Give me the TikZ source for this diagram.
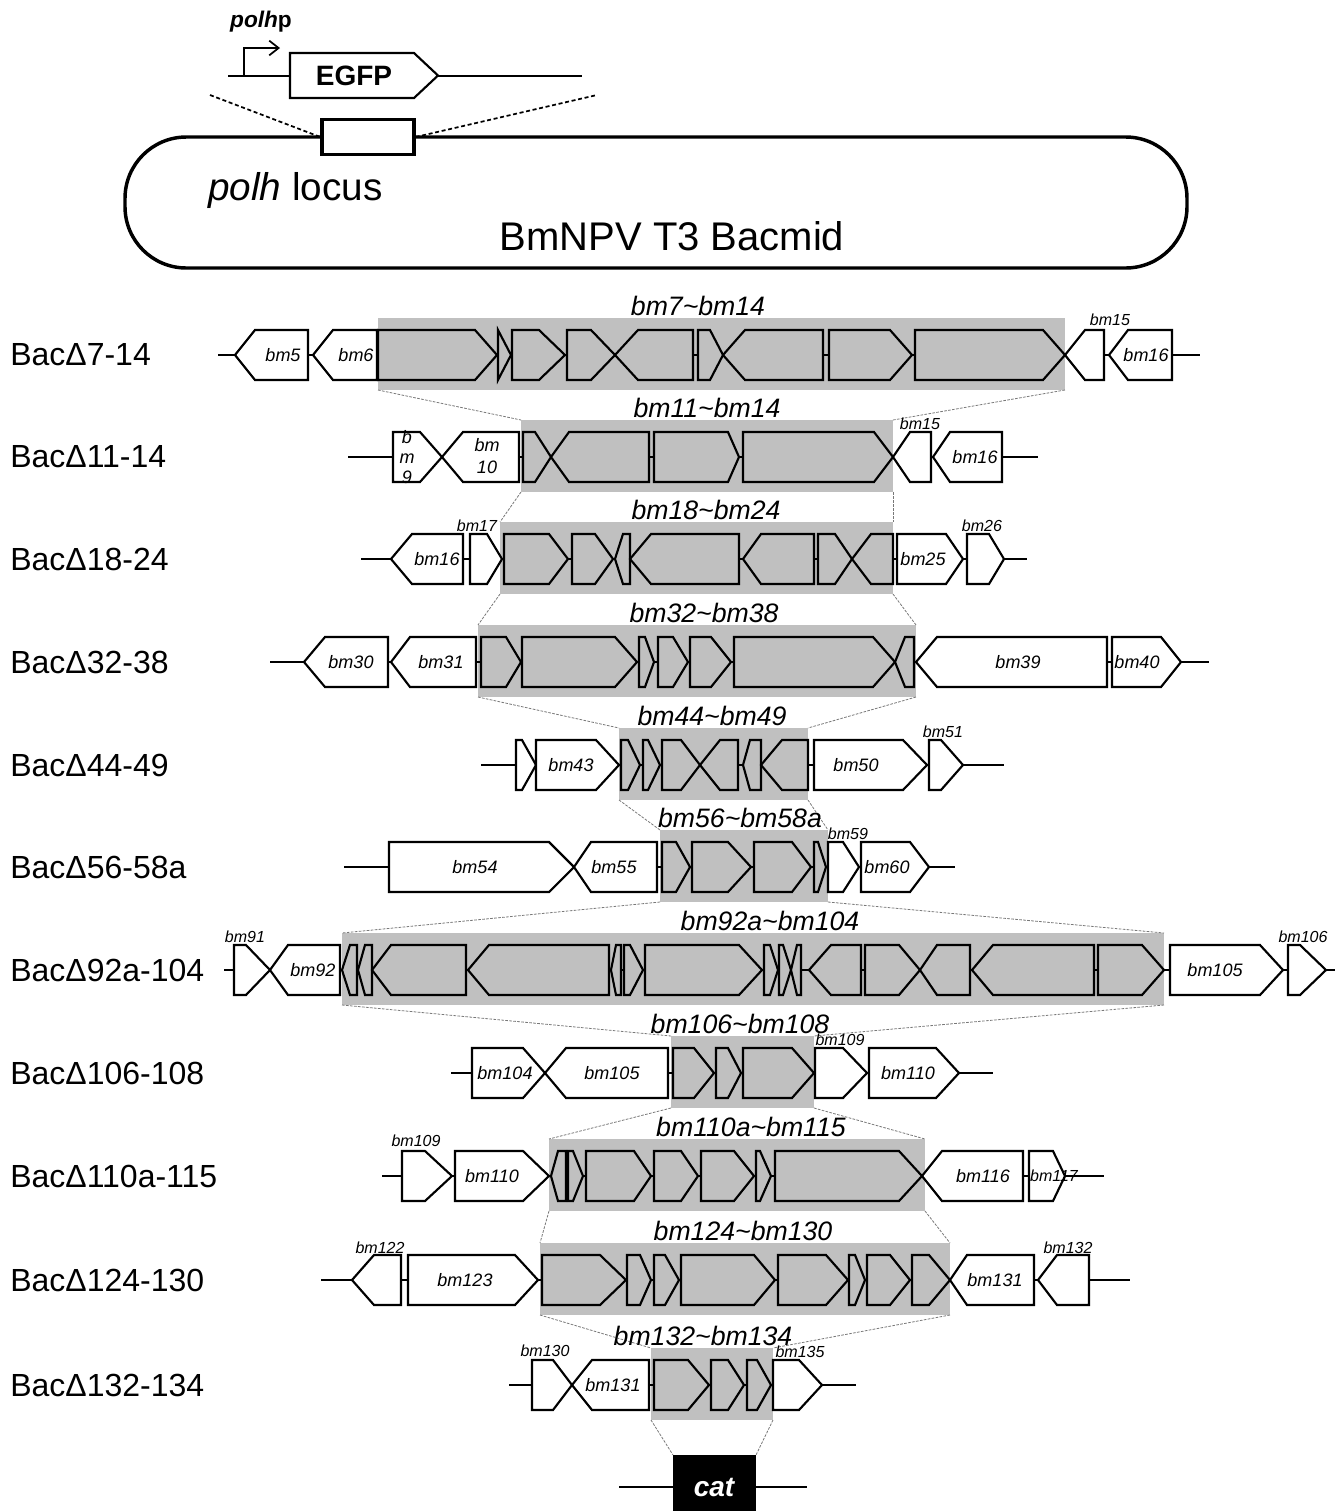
\documentclass[tikz,border=0pt]{standalone}
\usepackage{fontspec}
\setmainfont{Liberation Sans}
\usetikzlibrary{arrows.meta}
\definecolor{shadegray}{RGB}{192,192,192}
\definecolor{conngray}{RGB}{120,120,120}
\tikzset{
  gene/.style={draw=black, fill=shadegray, line width=1.6pt, line join=miter},
  genew/.style={gene, fill=white},
  bb/.style={line width=2pt},
  conn/.style={draw=conngray, line width=0.6pt, dash pattern=on 2pt off 1pt},
  blackdash/.style={draw=black, line width=1.3pt, dash pattern=on 3pt off 2pt},
  rowlab/.style={anchor=west, inner sep=0, font=\fontsize{24}{28}\selectfont},
  reglab/.style={inner sep=0, font=\fontsize{20}{24}\selectfont\itshape},
  glab/.style={inner sep=0, font=\fontsize{13.5}{16}\selectfont\itshape},
  slab/.style={inner sep=0, font=\fontsize{12}{14}\selectfont\itshape},
}
% rightward gene: [style]{y}{x1}{corner}{tip}
\newcommand{\gR}[5][genew]{\draw[#1] (#3,#2-25) -- (#4,#2-25) -- (#5,#2) -- (#4,#2+25) -- (#3,#2+25) -- cycle;}
% leftward gene: [style]{y}{tip}{corner}{right}
\newcommand{\gL}[5][genew]{\draw[#1] (#3,#2) -- (#4,#2-25) -- (#5,#2-25) -- (#5,#2+25) -- (#4,#2+25) -- cycle;}
% region: {name}{y}{x1}{x2}
\newcommand{\region}[4]{%
  \fill[shadegray] (#3,#2-37) rectangle (#4,#2+35);
  \coordinate (#1tl) at (#3,#2-37); \coordinate (#1tr) at (#4,#2-37);
  \coordinate (#1bl) at (#3,#2+35); \coordinate (#1br) at (#4,#2+35);}
\newcommand{\rlabel}[4]{\node[reglab] (#1lab) at (#3,#2-49) {#4};}
\newcommand{\tl}{\textasciitilde}
\begin{document}
\begin{tikzpicture}[x=0.75pt,y=-0.75pt]
\useasboundingbox (0,0) rectangle (1335,1511);

% ---------- top construct ----------
\draw[bb] (228,76) -- (582,76);
\coordinate (prom) at (244,76);
\coordinate (promend) at (280,48);
\draw[line width=1.5pt, -{Straight Barb[length=7pt,width=11pt,line width=1.3pt]}] (prom) |- (promend);
\draw[genew] (290,53) -- (414,53) -- (438,75.5) -- (414,98) -- (290,98) -- cycle;
\node[inner sep=0, font=\fontsize{21}{24}\selectfont\bfseries] (egfp) at (354,76) {EGFP};
\node[inner sep=0, font=\fontsize{17}{19}\selectfont\bfseries] (polhp) at (261,22) {\textit{polh}p};

% ---------- bacmid ----------
\draw[line width=2.6pt, rounded corners=46pt] (125,137) rectangle (1187,268);
\node[draw, fill=white, line width=2.5pt, minimum width=69pt, minimum height=26pt, inner sep=0] (locus) at (368,137) {};
\coordinate (dl) at (210,95);
\coordinate (dr) at (597,95);
\draw[blackdash] (dl) -- (locus.west);
\draw[blackdash] (locus.east) -- (dr);
\node[anchor=west, inner sep=0, font=\fontsize{29}{32}\selectfont] (locuslab) at (208,190) {\textit{polh} locus};
\node[inner sep=0, font=\fontsize{30}{34}\selectfont] (bacmid) at (672,236) {BmNPV T3 Bacmid};

% ---------- shaded regions ----------
\region{s1}{355}{378}{1065}
\region{s2}{457}{521}{893}
\region{s3}{559}{500}{893}
\region{s4}{662}{478}{916}
\region{s5}{765}{619}{808}
\region{s6}{867}{660}{828}
\region{s7}{970}{342}{1164}
\region{s8}{1073}{671}{814}
\region{s9}{1176}{549}{925}
\region{s10}{1280}{540}{950}
\region{s11}{1385}{651}{773}
\coordinate (cattl) at (673,1455);
\coordinate (cattr) at (756,1455);

% ---------- connectors ----------
\draw[conn] (s1bl) -- (s2tl); \draw[conn] (s1br) -- (s2tr);
\draw[conn] (s2bl) -- (s3tl); \draw[conn] (s2br) -- (s3tr);
\draw[conn] (s3bl) -- (s4tl); \draw[conn] (s3br) -- (s4tr);
\draw[conn] (s4bl) -- (s5tl); \draw[conn] (s4br) -- (s5tr);
\draw[conn] (s5bl) -- (s6tl); \draw[conn] (s5br) -- (s6tr);
\draw[conn] (s6bl) -- (s7tl); \draw[conn] (s6br) -- (s7tr);
\draw[conn] (s7bl) -- (s8tl); \draw[conn] (s7br) -- (s8tr);
\draw[conn] (s8bl) -- (s9tl); \draw[conn] (s8br) -- (s9tr);
\draw[conn] (s9bl) -- (s10tl); \draw[conn] (s9br) -- (s10tr);
\draw[conn] (s10bl) -- (s11tl); \draw[conn] (s10br) -- (s11tr);
\draw[conn] (s11bl) -- (cattl); \draw[conn] (s11br) -- (cattr);

% ---------- region labels ----------
\rlabel{s1}{355}{698}{bm7\tl bm14}
\rlabel{s2}{457}{707}{bm11\tl bm14}
\rlabel{s3}{559}{706}{bm18\tl bm24}
\rlabel{s4}{662}{704}{bm32\tl bm38}
\rlabel{s5}{765}{712}{bm44\tl bm49}
\rlabel{s6}{867}{740}{bm56\tl bm58a}
\rlabel{s7}{970}{770}{bm92a\tl bm104}
\rlabel{s8}{1073}{740}{bm106\tl bm108}
\rlabel{s9}{1176}{751}{bm110a\tl bm115}
\rlabel{s10}{1280}{743}{bm124\tl bm130}
\rlabel{s11}{1385}{703}{bm132\tl bm134}

% ---------- row labels ----------
\node[rowlab] (r1) at (10,355) {BacΔ7-14};
\node[rowlab] (r2) at (10,457) {BacΔ11-14};
\node[rowlab] (r3) at (10,559) {BacΔ18-24};
\node[rowlab] (r4) at (10,662) {BacΔ32-38};
\node[rowlab] (r5) at (10,765) {BacΔ44-49};
\node[rowlab] (r6) at (10,867) {BacΔ56-58a};
\node[rowlab] (r7) at (10,970) {BacΔ92a-104};
\node[rowlab] (r8) at (10,1073) {BacΔ106-108};
\node[rowlab] (r9) at (10,1176) {BacΔ110a-115};
\node[rowlab] (r10) at (10,1280) {BacΔ124-130};
\node[rowlab] (r11) at (10,1385) {BacΔ132-134};

% ---------- row 1 ----------
\draw[bb] (218,355) -- (1200,355);
\gL{355}{235}{255}{308}
\gL{355}{313}{333}{377}
\gR[gene]{355}{378}{475}{497}
\gR[gene]{355}{498}{498}{511}
\gR[gene]{355}{512}{539}{565}
\gR[gene]{355}{567}{591}{615}
\gL[gene]{355}{615}{638}{693}
\gR[gene]{355}{698}{710}{723}
\gL[gene]{355}{723}{745}{823}
\gR[gene]{355}{829}{890}{912}
\gR[gene]{355}{915}{1043}{1065}
\gL{355}{1065}{1085}{1104}
\gL{355}{1109}{1128}{1172}
\node[glab] (a1) at (283,355) {bm5};
\node[glab] (a2) at (356,355) {bm6};
\node[slab] (a3) at (1110,320) {bm15};
\node[glab] (a4) at (1146,355) {bm16};

% ---------- row 2 ----------
\draw[bb] (348,457) -- (1038,457);
\gR{457}{393}{420}{442}
\gL{457}{442}{463}{519}
\gR[gene]{457}{523}{535}{551}
\gL[gene]{457}{551}{569}{649}
\gR[gene]{457}{654}{728}{739}
\gR[gene]{457}{743}{874}{893}
\gL{457}{893}{910}{931}
\gL{457}{933}{950}{1002}
\node[glab, align=center, font=\fontsize{13.5}{15}\selectfont\itshape] (b1) at (407,457) {b\\m\\9};
\node[glab, align=center, font=\fontsize{13.5}{16.5}\selectfont\itshape] (b2) at (487,456) {bm\\10};
\node[slab] (b3) at (920,424) {bm15};
\node[glab] (b4) at (975,457) {bm16};

% ---------- row 3 ----------
\draw[bb] (361,559) -- (1027,559);
\gL{559}{391}{412}{463}
\gR{559}{470}{487}{502}
\gR[gene]{559}{504}{549}{568}
\gR[gene]{559}{572}{595}{613}
\gL[gene]{559}{615}{623}{630}
\gL[gene]{559}{630}{651}{739}
\gL[gene]{559}{743}{761}{814}
\gR[gene]{559}{818}{835}{852}
\gL[gene]{559}{852}{871}{893}
\gR{559}{897}{946}{963}
\gR{559}{967}{989}{1004}
\node[glab] (c1) at (437,559) {bm16};
\node[slab] (c2) at (477,526) {bm17};
\node[glab] (c3) at (923,559) {bm25};
\node[slab] (c4) at (982,526) {bm26};

% ---------- row 4 ----------
\draw[bb] (270,662) -- (1209,662);
\gL{662}{304}{325}{388}
\gL{662}{391}{410}{476}
\gR[gene]{662}{481}{506}{521}
\gR[gene]{662}{522}{615}{637}
\gR[gene]{662}{639}{645}{654}
\gR[gene]{662}{658}{673}{688}
\gR[gene]{662}{690}{711}{731}
\gR[gene]{662}{734}{873}{895}
\gL[gene]{662}{895}{905}{914}
\gL{662}{916}{937}{1107}
\gR{662}{1112}{1161}{1181}
\node[glab] (d1) at (351,662) {bm30};
\node[glab] (d2) at (441,662) {bm31};
\node[glab] (d3) at (1018,662) {bm39};
\node[glab] (d4) at (1137,662) {bm40};

% ---------- row 5 ----------
\draw[bb] (481,765) -- (1004,765);
\gR{765}{516}{522}{536}
\gR{765}{536}{596}{619}
\gR[gene]{765}{621}{628}{640}
\gR[gene]{765}{643}{648}{660}
\gR[gene]{765}{662}{681}{700}
\gL[gene]{765}{700}{720}{738}
\gL[gene]{765}{743}{750}{761}
\gL[gene]{765}{761}{782}{808}
\gR{765}{814}{903}{927}
\gR{765}{929}{941}{963}
\node[glab] (e1) at (571,765) {bm43};
\node[glab] (e2) at (856,765) {bm50};
\node[slab] (e3) at (943,732) {bm51};

% ---------- row 6 ----------
\draw[bb] (344,867) -- (955,867);
\gR{867}{389}{549}{574}
\gL{867}{574}{591}{657}
\gR[gene]{867}{662}{676}{690}
\gR[gene]{867}{692}{728}{751}
\gR[gene]{867}{754}{792}{811}
\gR[gene]{867}{814}{818}{826}
\gR{867}{828}{843}{859}
\gR{867}{861}{910}{929}
\node[glab] (f1) at (475,867) {bm54};
\node[glab] (f2) at (614,867) {bm55};
\node[slab] (f3) at (848,834) {bm59};
\node[glab] (f4) at (887,867) {bm60};

% ---------- row 7 ----------
\draw[bb] (224,970) -- (1335,970);
\gR{970}{234}{246}{270}
\gL{970}{270}{288}{340}
\gL[gene]{970}{342}{350}{357}
\gL[gene]{970}{358}{365}{372}
\gL[gene]{970}{372}{391}{466}
\gL[gene]{970}{468}{489}{609}
\gL[gene]{970}{611}{616}{621}
\gR[gene]{970}{624}{630}{643}
\gR[gene]{970}{645}{739}{762}
\gR[gene]{970}{764}{770}{778}
\gR[gene]{970}{779}{783}{791}
\gL[gene]{970}{791}{797}{801}
\gL[gene]{970}{809}{831}{861}
\gR[gene]{970}{865}{899}{920}
\gL[gene]{970}{920}{937}{970}
\gL[gene]{970}{972}{993}{1094}
\gR[gene]{970}{1098}{1142}{1164}
\gR{970}{1170}{1260}{1283}
\gR{970}{1288}{1300}{1326}
\node[slab] (g1) at (245,937) {bm91};
\node[glab] (g2) at (313,970) {bm92};
\node[glab] (g3) at (1215,970) {bm105};
\node[slab] (g4) at (1303,937) {bm106};

% ---------- row 8 ----------
\draw[bb] (451,1073) -- (993,1073);
\gR{1073}{472}{523}{545}
\gL{1073}{545}{566}{668}
\gR[gene]{1073}{673}{694}{714}
\gR[gene]{1073}{716}{728}{741}
\gR[gene]{1073}{743}{792}{814}
\gR{1073}{815}{843}{867}
\gR{1073}{869}{936}{959}
\node[glab] (h1) at (505,1073) {bm104};
\node[glab] (h2) at (612,1073) {bm105};
\node[slab] (h3) at (840,1040) {bm109};
\node[glab] (h4) at (908,1073) {bm110};

% ---------- row 9 ----------
\draw[bb] (382,1176) -- (1104,1176);
\gR{1176}{402}{425}{452}
\gR{1176}{455}{523}{549}
\gL[gene]{1176}{551}{558}{566}
\gR[gene]{1176}{568}{573}{583}
\gR[gene]{1176}{586}{634}{651}
\gR[gene]{1176}{654}{681}{698}
\gR[gene]{1176}{701}{734}{754}
\gR[gene]{1176}{756}{760}{771}
\gR[gene]{1176}{775}{899}{922}
\gL{1176}{922}{942}{1023}
\gR{1176}{1029}{1053}{1065}
\node[slab] (i1) at (416,1141) {bm109};
\node[glab] (i2) at (492,1176) {bm110};
\node[glab] (i3) at (983,1176) {bm116};
\node[slab] (i4) at (1054,1176) {bm117};

% ---------- row 10 ----------
\draw[bb] (321,1280) -- (1130,1280);
\gL{1280}{352}{374}{401}
\gR{1280}{408}{515}{538}
\gR[gene]{1280}{542}{600}{626}
\gR[gene]{1280}{627}{640}{651}
\gR[gene]{1280}{654}{665}{679}
\gR[gene]{1280}{681}{754}{775}
\gR[gene]{1280}{778}{826}{848}
\gR[gene]{1280}{849}{855}{865}
\gR[gene]{1280}{867}{890}{910}
\gR[gene]{1280}{912}{929}{950}
\gL{1280}{950}{967}{1034}
\gL{1280}{1038}{1057}{1089}
\node[slab] (j1) at (380,1248) {bm122};
\node[glab] (j2) at (465,1280) {bm123};
\node[glab] (j3) at (995,1280) {bm131};
\node[slab] (j4) at (1068,1248) {bm132};

% ---------- row 11 ----------
\draw[bb] (509,1385) -- (856,1385);
\gR{1385}{532}{553}{572}
\gL{1385}{572}{592}{649}
\gR[gene]{1385}{654}{688}{709}
\gR[gene]{1385}{711}{728}{744}
\gR[gene]{1385}{747}{757}{771}
\gR{1385}{773}{799}{822}
\node[slab] (k1) at (545,1351) {bm130};
\node[glab] (k2) at (613,1385) {bm131};
\node[slab] (k3) at (800,1352) {bm135};

% ---------- cat ----------
\coordinate (catl) at (619,1487);
\coordinate (catr) at (807,1487);
\draw[bb] (catl) -- (catr);
\fill[black] (673,1455) rectangle (756,1511);
\node[inner sep=0, text=white, font=\fontsize{21}{24}\selectfont\bfseries\itshape] (cat) at (714,1487) {cat};
\end{tikzpicture}
\end{document}
